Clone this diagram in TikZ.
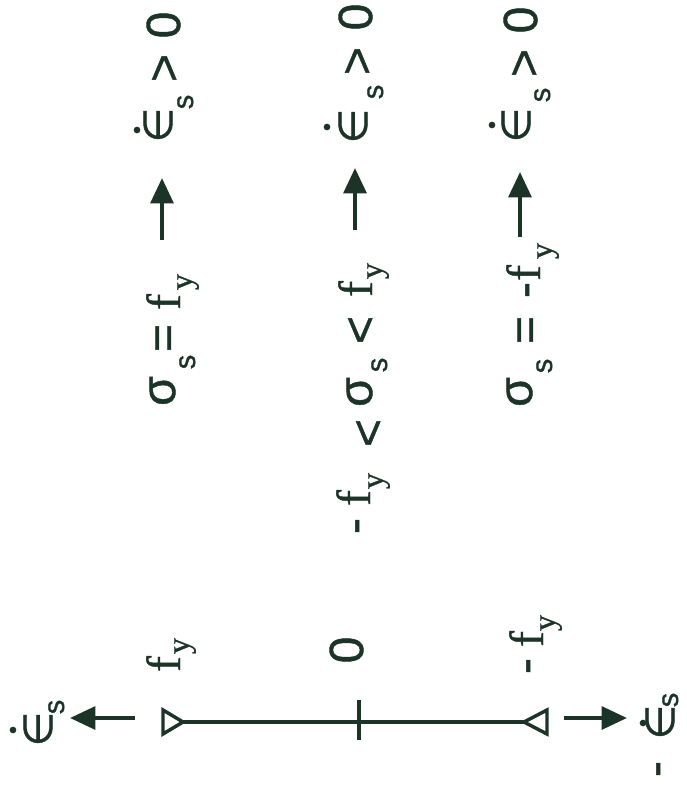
\documentclass[tikz,border=0pt]{standalone}
\usepackage{fontspec}
\setmainfont[FakeBold=0.9]{Liberation Sans}
\newfontfamily\tms[FakeBold=0.9]{Liberation Serif}
\newfontfamily\dvs[FakeBold=0.9]{DejaVu Sans}
\usetikzlibrary{arrows.meta}
\definecolor{ink}{RGB}{28,52,40}
\begin{document}
\begin{tikzpicture}[x=0.75pt,y=-0.75pt,
  g/.style={rotate=90,anchor=base,inner sep=0pt,text=ink,font=\fontsize{36}{40}\selectfont},
  gs/.style={g,font=\fontsize{22}{24}\selectfont},
  gf/.style={g,font=\tms\fontsize{36}{40}\selectfont},
  gy/.style={g,font=\tms\fontsize{24}{26}\selectfont},
  ge/.style={g,font=\dvs\fontsize{30}{34}\selectfont},
  arr/.style={draw=ink,line width=3pt,-{Triangle[length=19pt,width=17pt]}},
  bar/.style={draw=ink,line width=3.6pt},
  tri/.style={draw=ink,line width=2.6pt,fill=white,line join=miter},
  dotmark/.style={fill=ink}]
\useasboundingbox (0,0) rectangle (686,789);
% ---------- row 1 ----------
\node[g]  (r1sig) at (175,391) {σ};
\node[gs] (r1s)   at (195,362) {s};
\node[g]  (r1eq)  at (179,338) {=};
\node[gf] (r1f)   at (180,302) {f};
\node[gy] (r1y)   at (192,282) {y};
\coordinate (r1a) at (162,240);
\coordinate (r1b) at (162,178);
\draw[arr] (r1a) -- (r1b);
\fill[dotmark] (137,130) circle[radius=2.5pt];
\node[ge] (r1e)   at (172,125) {∈};
\node[gs] (r1es)  at (193,102) {s};
\node[g]  (r1gt)  at (180,68) {>};
\node[g]  (r1z)   at (180,25) {0};
% ---------- row 2 ----------
\node[g]  (r2m)   at (370,526) {-};
\node[gf] (r2f1)  at (370,498) {f};
\node[gy] (r2y1)  at (383,481) {y};
\node[g]  (r2lt1) at (384,433) {<};
\node[g]  (r2sig) at (372,392) {σ};
\node[gs] (r2s)   at (387,365) {s};
\node[g]  (r2lt2) at (376,330) {<};
\node[gf] (r2f2)  at (372,289) {f};
\node[gy] (r2y2)  at (382,271) {y};
\coordinate (r2a) at (355,230);
\coordinate (r2b) at (355,168);
\draw[arr] (r2a) -- (r2b);
\fill[dotmark] (327,127) circle[radius=2.5pt];
\node[ge] (r2e)   at (367,126) {∈};
\node[gs] (r2es)  at (383,92) {s};
\node[g]  (r2gt)  at (373,61) {>};
\node[g]  (r2z)   at (372,17) {0};
% ---------- row 3 ----------
\node[g]  (r3sig) at (532,392) {σ};
\node[gs] (r3s)   at (552,366) {s};
\node[g]  (r3eq)  at (541,330) {=};
\node[g]  (r3m)   at (540,290) {-};
\node[gf] (r3f)   at (540,273) {f};
\node[gy] (r3y)   at (552,251) {y};
\coordinate (r3a) at (520,237);
\coordinate (r3b) at (520,172);
\draw[arr] (r3a) -- (r3b);
\fill[dotmark] (492,125) circle[radius=2.5pt];
\node[ge] (r3e)   at (530,125) {∈};
\node[gs] (r3es)  at (550,95) {s};
\node[g]  (r3gt)  at (540,63) {>};
\node[g]  (r3z)   at (537,20) {0};
% ---------- bottom bar ----------
\coordinate (barL) at (183,722);
\coordinate (barR) at (524,722);
\draw[bar] (barL) -- (barR);
\coordinate (tickT) at (359,700);
\coordinate (tickB) at (359,740);
\draw[draw=ink,line width=2.4pt] (tickT) -- (tickB);
\draw[tri] (163,710) -- (163,734) -- (barL) -- cycle;
\draw[tri] (547,710) -- (547,734) -- (barR) -- cycle;
\coordinate (la) at (135,718);
\coordinate (lb) at (70,718);
\draw[arr] (la) -- (lb);
\coordinate (ra) at (564,718);
\coordinate (rb) at (627,718);
\draw[arr] (ra) -- (rb);
% labels above bar
\node[gf] (bf1)  at (180,664) {f};
\node[gy] (by1)  at (189,646) {y};
\node[g]  (bz)   at (363,650) {0};
\node[g]  (bm)   at (541,666) {-};
\node[gf] (bf2)  at (543,639) {f};
\node[gy] (by2)  at (555,623) {y};
% left end label
\fill[dotmark] (13,730) circle[radius=2.5pt];
\node[ge] (le)   at (52,729) {∈};
\node[gs] (les)  at (64,707) {s};
% right end label
\node[g]  (rem)  at (671,769) {-};
\fill[dotmark] (643,723) circle[radius=2.5pt];
\node[ge] (ree)  at (674,722) {∈};
\node[gs] (res)  at (678,700) {s};
\end{tikzpicture}
\end{document}
